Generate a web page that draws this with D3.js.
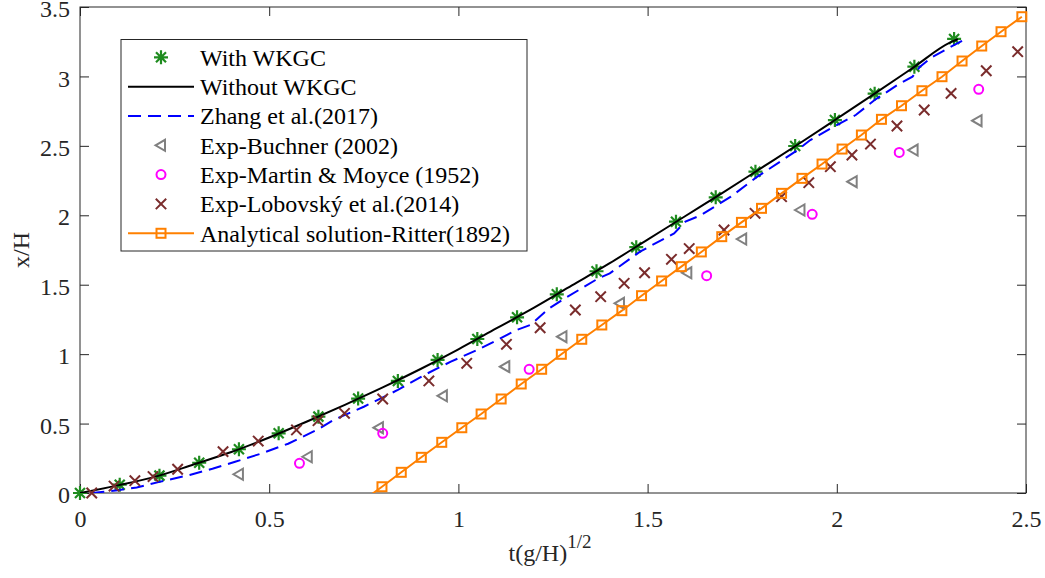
<!DOCTYPE html>
<html>
<head>
<meta charset="utf-8">
<script src="https://cdn.jsdelivr.net/npm/d3@7/dist/d3.min.js"></script>
<style>
  html, body { margin: 0; padding: 0; background: #fff; }
  svg { display: block; font-family: "Liberation Serif", "Times New Roman", serif; }
</style>
</head>
<body>
<svg id="chart" width="1045" height="578"></svg>
<script>
// Dam-break front position x/H versus dimensionless time t(g/H)^1/2

const xTicks = [0, 0.5, 1, 1.5, 2, 2.5];
const xTickLabels = ["0", "0.5", "1", "1.5", "2", "2.5"];
const yTicks = [0, 0.5, 1, 1.5, 2, 2.5, 3, 3.5];
const yTickLabels = ["0", "0.5", "1", "1.5", "2", "2.5", "3", "3.5"];

const legendLabels = [
  "With WKGC",
  "Without WKGC",
  "Zhang et al.(2017)",
  "Exp-Buchner (2002)",
  "Exp-Martin & Moyce (1952)",
  "Exp-Lobovský et al.(2014)",
  "Analytical solution-Ritter(1892)"
];

// With WKGC (markers)
const wkgcT = [0, 0.105, 0.21, 0.315, 0.42, 0.525, 0.63, 0.735, 0.84, 0.945, 1.05, 1.155,
  1.26, 1.365, 1.47, 1.575, 1.68, 1.785, 1.89, 1.995, 2.10, 2.205, 2.31];
const wkgcX = [0, 0.06, 0.125, 0.218, 0.315, 0.43, 0.55, 0.68, 0.807, 0.958, 1.109, 1.265,
  1.431, 1.597, 1.77, 1.954, 2.129, 2.314, 2.499, 2.686, 2.876, 3.07, 3.27];

// Without WKGC (solid line)
const noWkgcT = [0, 0.1, 0.2, 0.3, 0.4, 0.5, 0.6, 0.7, 0.8, 0.9, 1.0, 1.1, 1.2, 1.3, 1.4,
  1.5, 1.6, 1.7, 1.8, 1.9, 2.0, 2.1, 2.2, 2.3, 2.32];
const noWkgcX = [0, 0.055, 0.118, 0.205, 0.295, 0.40, 0.515, 0.635, 0.76, 0.893, 1.035, 1.185,
  1.335, 1.495, 1.655, 1.825, 1.995, 2.165, 2.34, 2.515, 2.695, 2.876, 3.06, 3.245, 3.268];

// Zhang et al. (2017) (dashed line)
const zhangT = [0.03, 0.10, 0.15, 0.21, 0.29, 0.35, 0.41, 0.48, 0.55, 0.63, 0.67, 0.75, 0.84,
  0.91, 0.98, 1.01, 1.05, 1.10, 1.15, 1.19, 1.24, 1.28, 1.37, 1.40, 1.48, 1.57, 1.60, 1.64,
  1.72, 1.79, 1.89, 1.93, 2.00, 2.05, 2.10, 2.16, 2.20, 2.22, 2.25, 2.34];
const zhangX = [0.0, 0.02, 0.04, 0.08, 0.13, 0.175, 0.225, 0.285, 0.355, 0.46, 0.526, 0.621,
  0.742, 0.85, 0.946, 0.982, 1.03, 1.097, 1.17, 1.21, 1.33, 1.40, 1.546, 1.582, 1.738, 1.87,
  1.954, 2.0, 2.134, 2.278, 2.458, 2.542, 2.65, 2.722, 2.83, 2.938, 2.998, 3.07, 3.137, 3.27];

// Experiment: Buchner (2002)
const buchnerT = [0.42, 0.602, 0.79, 0.959, 1.124, 1.275, 1.427, 1.605, 1.75, 1.904, 2.042, 2.203, 2.372];
const buchnerX = [0.135, 0.261, 0.47, 0.70, 0.91, 1.126, 1.366, 1.586, 1.829, 2.038, 2.242, 2.47, 2.681];

// Experiment: Martin & Moyce (1952)
const martinT = [0.58, 0.80, 1.187, 1.656, 1.935, 2.165, 2.375];
const martinX = [0.214, 0.43, 0.891, 1.565, 2.007, 2.453, 2.907];

// Experiment: Lobovský et al. (2014)
const lobovskyT = [0.031, 0.09, 0.145, 0.193, 0.258, 0.378, 0.471, 0.572, 0.629, 0.699, 0.80,
  0.922, 1.022, 1.127, 1.216, 1.309, 1.376, 1.438, 1.492, 1.563, 1.61, 1.702, 1.784, 1.854,
  1.926, 1.983, 2.04, 2.089, 2.159, 2.231, 2.302, 2.395, 2.478];
const lobovskyX = [0.0, 0.05, 0.089, 0.118, 0.171, 0.298, 0.374, 0.454, 0.521, 0.574, 0.677,
  0.807, 0.934, 1.071, 1.19, 1.318, 1.414, 1.51, 1.586, 1.683, 1.76, 1.894, 2.014, 2.134,
  2.235, 2.35, 2.434, 2.513, 2.643, 2.758, 2.878, 3.041, 3.178];

// Ritter (1892) analytical front (line + square markers)
const ritterT = [0.745, 0.798, 0.849, 0.902, 0.956, 1.009, 1.06, 1.113, 1.166, 1.22, 1.272,
  1.326, 1.379, 1.432, 1.484, 1.537, 1.589, 1.642, 1.696, 1.748, 1.801, 1.854, 1.908, 1.961,
  2.014, 2.065, 2.118, 2.171, 2.225, 2.278, 2.331, 2.383, 2.434, 2.489];
const ritterX = [-0.061, 0.045, 0.149, 0.257, 0.365, 0.47, 0.569, 0.677, 0.785, 0.891, 0.999,
  1.107, 1.21, 1.313, 1.421, 1.527, 1.63, 1.736, 1.846, 1.949, 2.05, 2.158, 2.266, 2.369,
  2.477, 2.578, 2.691, 2.789, 2.897, 2.998, 3.111, 3.219, 3.322, 3.43];

const zip = (a, b) => a.map((v, i) => [v, b[i]]);

const COL = {
  axis: "#262626",
  green: "#1f8c1f",
  black: "#000000",
  blue: "#0000ff",
  gray: "#808080",
  magenta: "#ff00ff",
  brown: "#7a2c2c",
  orange: "#ff8000"
};

const svg = d3.select("#chart");
const plot = { left: 80, right: 1026, top: 7, bottom: 493 };

const x = d3.scaleLinear().domain([0, 2.5]).range([plot.left, plot.right]);
const y = d3.scaleLinear().domain([0, 3.5]).range([plot.bottom, plot.top]);

svg.append("defs").append("clipPath").attr("id", "plotClip")
  .append("rect")
  .attr("x", plot.left).attr("y", plot.top)
  .attr("width", plot.right - plot.left).attr("height", plot.bottom - plot.top);

// Axes with inward ticks on all four sides
const fontSize = 24;
const tickLen = 9;

const axB = d3.axisBottom(x).tickValues(xTicks).tickFormat((d, i) => xTickLabels[i])
  .tickSizeInner(-tickLen).tickSizeOuter(0).tickPadding(17);
const axT = d3.axisTop(x).tickValues(xTicks).tickFormat("")
  .tickSizeInner(-tickLen).tickSizeOuter(0);
const axL = d3.axisLeft(y).tickValues(yTicks).tickFormat((d, i) => yTickLabels[i])
  .tickSizeInner(-tickLen).tickSizeOuter(0).tickPadding(10);
const axR = d3.axisRight(y).tickValues(yTicks).tickFormat("")
  .tickSizeInner(-tickLen).tickSizeOuter(0);

function styleAxis(g) {
  g.select(".domain").remove();
  g.selectAll("line").attr("stroke", COL.axis).attr("stroke-width", 1);
  g.selectAll("text").attr("fill", COL.axis)
    .style("font-family", '"Liberation Serif", serif').style("font-size", fontSize + "px");
}

svg.append("g").attr("transform", `translate(0,${plot.bottom})`).call(axB).call(styleAxis);
svg.append("g").attr("transform", `translate(0,${plot.top})`).call(axT).call(styleAxis);
svg.append("g").attr("transform", `translate(${plot.left},0)`).call(axL).call(styleAxis)
  .selectAll("text").attr("dy", "0.4em");
svg.append("g").attr("transform", `translate(${plot.right},0)`).call(axR).call(styleAxis);

svg.append("rect")
  .attr("x", plot.left).attr("y", plot.top)
  .attr("width", plot.right - plot.left).attr("height", plot.bottom - plot.top)
  .attr("fill", "none").attr("stroke", COL.axis).attr("stroke-width", 1);

// Axis titles
const xl = svg.append("text")
  .attr("x", (plot.left + plot.right) / 2 - 3).attr("y", 561)
  .attr("text-anchor", "middle").attr("fill", COL.axis)
  .style("font-size", fontSize + "px");
xl.append("tspan").text("t(g/H)");
xl.append("tspan").attr("dy", -13).style("font-size", "19px").text("1/2");

svg.append("text")
  .attr("transform", `translate(29,${(plot.top + plot.bottom) / 2}) rotate(-90)`)
  .attr("text-anchor", "middle").attr("fill", COL.axis)
  .style("font-size", fontSize + "px")
  .text("x/H");

// Marker shapes
function drawMarker(g, kind, cx, cy) {
  if (kind === "star") {
    const r = 7, d = 5;
    g.append("path")
      .attr("d", `M${cx - r},${cy}H${cx + r}M${cx},${cy - r}V${cy + r}` +
        `M${cx - d},${cy - d}L${cx + d},${cy + d}M${cx - d},${cy + d}L${cx + d},${cy - d}`)
      .attr("stroke", COL.green).attr("stroke-width", 2.2).attr("fill", "none");
  } else if (kind === "tri") {
    g.append("path")
      .attr("d", `M${cx - 5.5},${cy}L${cx + 4},${cy - 5.5}L${cx + 4},${cy + 5.5}Z`)
      .attr("stroke", COL.gray).attr("stroke-width", 2).attr("fill", "none")
      .attr("stroke-linejoin", "miter");
  } else if (kind === "circle") {
    g.append("circle").attr("cx", cx).attr("cy", cy).attr("r", 4.5)
      .attr("stroke", COL.magenta).attr("stroke-width", 2).attr("fill", "none");
  } else if (kind === "cross") {
    const d = 5.2;
    g.append("path")
      .attr("d", `M${cx - d},${cy - d}L${cx + d},${cy + d}M${cx - d},${cy + d}L${cx + d},${cy - d}`)
      .attr("stroke", COL.brown).attr("stroke-width", 2).attr("fill", "none");
  } else if (kind === "square") {
    const s = 4.5;
    g.append("rect").attr("x", cx - s).attr("y", cy - s).attr("width", 2 * s).attr("height", 2 * s)
      .attr("stroke", COL.orange).attr("stroke-width", 2).attr("fill", "none");
  }
}

const inDomain = ([t, v]) => t >= 0 && t <= 2.5 && v >= 0 && v <= 3.5;

const dataLayer = svg.append("g");
const clipped = () => dataLayer.append("g").attr("clip-path", "url(#plotClip)");

// With WKGC
const gStar = dataLayer.append("g");
zip(wkgcT, wkgcX).filter(inDomain).forEach(p => drawMarker(gStar, "star", x(p[0]), y(p[1])));

// Without WKGC
clipped().append("path")
  .datum(zip(noWkgcT, noWkgcX))
  .attr("d", d3.line().x(d => x(d[0])).y(d => y(d[1])).curve(d3.curveMonotoneX))
  .attr("fill", "none").attr("stroke", COL.black).attr("stroke-width", 2);

// Zhang et al.
clipped().append("path")
  .datum(zip(zhangT, zhangX))
  .attr("d", d3.line().x(d => x(d[0])).y(d => y(d[1])))
  .attr("fill", "none").attr("stroke", COL.blue).attr("stroke-width", 2)
  .attr("stroke-dasharray", "13,7");

// Experiments
const gTri = dataLayer.append("g");
zip(buchnerT, buchnerX).filter(inDomain).forEach(p => drawMarker(gTri, "tri", x(p[0]), y(p[1])));
const gCirc = dataLayer.append("g");
zip(martinT, martinX).filter(inDomain).forEach(p => drawMarker(gCirc, "circle", x(p[0]), y(p[1])));
const gCross = dataLayer.append("g");
zip(lobovskyT, lobovskyX).filter(inDomain).forEach(p => drawMarker(gCross, "cross", x(p[0]), y(p[1])));

// Ritter analytical solution
clipped().append("path")
  .datum(zip(ritterT, ritterX))
  .attr("d", d3.line().x(d => x(d[0])).y(d => y(d[1])))
  .attr("fill", "none").attr("stroke", COL.orange).attr("stroke-width", 2);
const gSq = dataLayer.append("g");
zip(ritterT, ritterX).filter(inDomain).forEach(p => drawMarker(gSq, "square", x(p[0]), y(p[1])));

// Legend
const legend = svg.append("g");
legend.append("rect")
  .attr("x", 121).attr("y", 39.5).attr("width", 406).attr("height", 211.5)
  .attr("fill", "#fff").attr("stroke", COL.axis).attr("stroke-width", 1);

const legendKinds = [
  { marker: "star" },
  { line: COL.black },
  { line: COL.blue, dash: "13,7" },
  { marker: "tri" },
  { marker: "circle" },
  { marker: "cross" },
  { line: COL.orange, marker: "square" }
];
const rowY0 = 57.3, rowStep = 29.33;
legendLabels.forEach((label, i) => {
  const cy = rowY0 + i * rowStep;
  const k = legendKinds[i];
  if (k.line) {
    legend.append("line").attr("x1", 128).attr("x2", 194).attr("y1", cy).attr("y2", cy)
      .attr("stroke", k.line).attr("stroke-width", 2)
      .attr("stroke-dasharray", k.dash || null);
  }
  if (k.marker) drawMarker(legend, k.marker, 161, cy);
  legend.append("text")
    .attr("x", 200).attr("y", cy + 8.3)
    .attr("fill", "#000")
    .style("font-size", fontSize + "px")
    .text(label);
});
</script>
</body>
</html>
